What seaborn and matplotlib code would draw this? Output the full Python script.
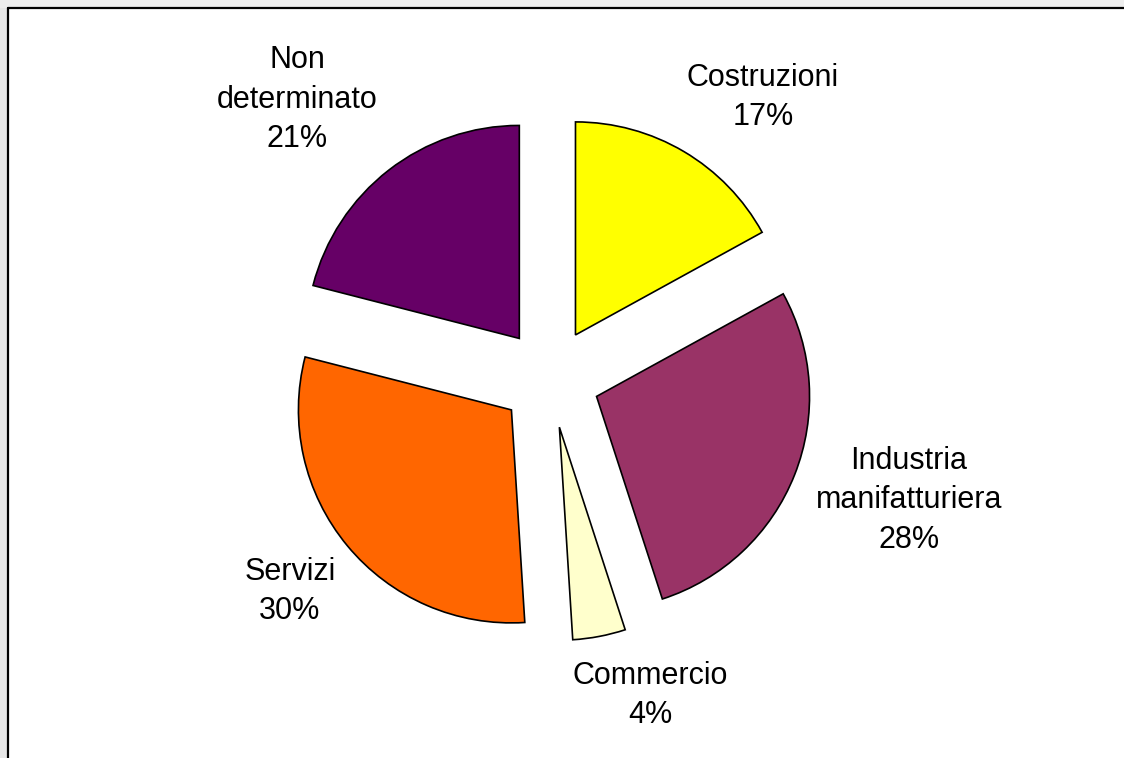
import matplotlib
matplotlib.use("Agg")
import matplotlib.pyplot as plt
from matplotlib.patches import Rectangle
from matplotlib.lines import Line2D
import seaborn as sns

# Ripartizione per settore (percentuali)
categories = ["Costruzioni", "Industria\nmanifatturiera", "Commercio", "Servizi", "Non\ndeterminato"]
values = [17, 28, 4, 30, 21]
colors = ["#FFFF00", "#993366", "#FFFFCC", "#FF6600", "#660066"]

sns.set_theme(style="white")
plt.rcParams["font.family"] = ["Liberation Sans", "DejaVu Sans"]

W, H, DPI = 1124, 758, 100
fig = plt.figure(figsize=(W / DPI, H / DPI), dpi=DPI)
fig.patch.set_facecolor("white")

# pie axes filling the figure; 1 data unit = R pixels
R = 213.0
cx, cy = 550.0, 380.0
ax = fig.add_axes([0, 0, 1, 1])
ax.axis("off")

explode = [0.235] * len(values)
wedges, _ = ax.pie(values, colors=colors, startangle=90, counterclock=False,
                   explode=explode, radius=1.0, center=(0, 0),
                   wedgeprops=dict(edgecolor="black", linewidth=1.2))
ax.set_xlim(-cx / R, (W - cx) / R)
ax.set_ylim(-cy / R, (H - cy) / R)
ax.set_aspect("equal")

# label anchors (pixels from top-left)
label_px = [(763, 97.5), (909, 500.5), (650, 695.5), (290, 591.5), (297, 99.5)]
total = sum(values)
for cat, v, (px, py) in zip(categories, values, label_px):
    x = (px - cx) / R
    y = ((H - py) - cy) / R
    ax.text(x, y, f"{cat}\n{round(100 * v / total)}%", ha="center", va="center",
            multialignment="center", fontsize=22, linespacing=1.42, color="black")

# chart-area frame with the sheet margin strips on the left and top
m = 8
fig.patches.append(Rectangle((0, 0), m / W, 1, transform=fig.transFigure,
                             facecolor="#E6E6E6", edgecolor="none", hatch="---",
                             zorder=0))
fig.patches.append(Rectangle((0, 1 - m / H), 1, m / H, transform=fig.transFigure,
                             facecolor="#EDEDED", edgecolor="none", zorder=0))
fig.lines.append(Line2D([m / W, m / W], [0, 1 - m / H], transform=fig.transFigure,
                        color="black", linewidth=1.6))
fig.lines.append(Line2D([m / W, 1], [1 - m / H, 1 - m / H], transform=fig.transFigure,
                        color="black", linewidth=1.6))

fig.savefig("out.png", dpi=DPI)
